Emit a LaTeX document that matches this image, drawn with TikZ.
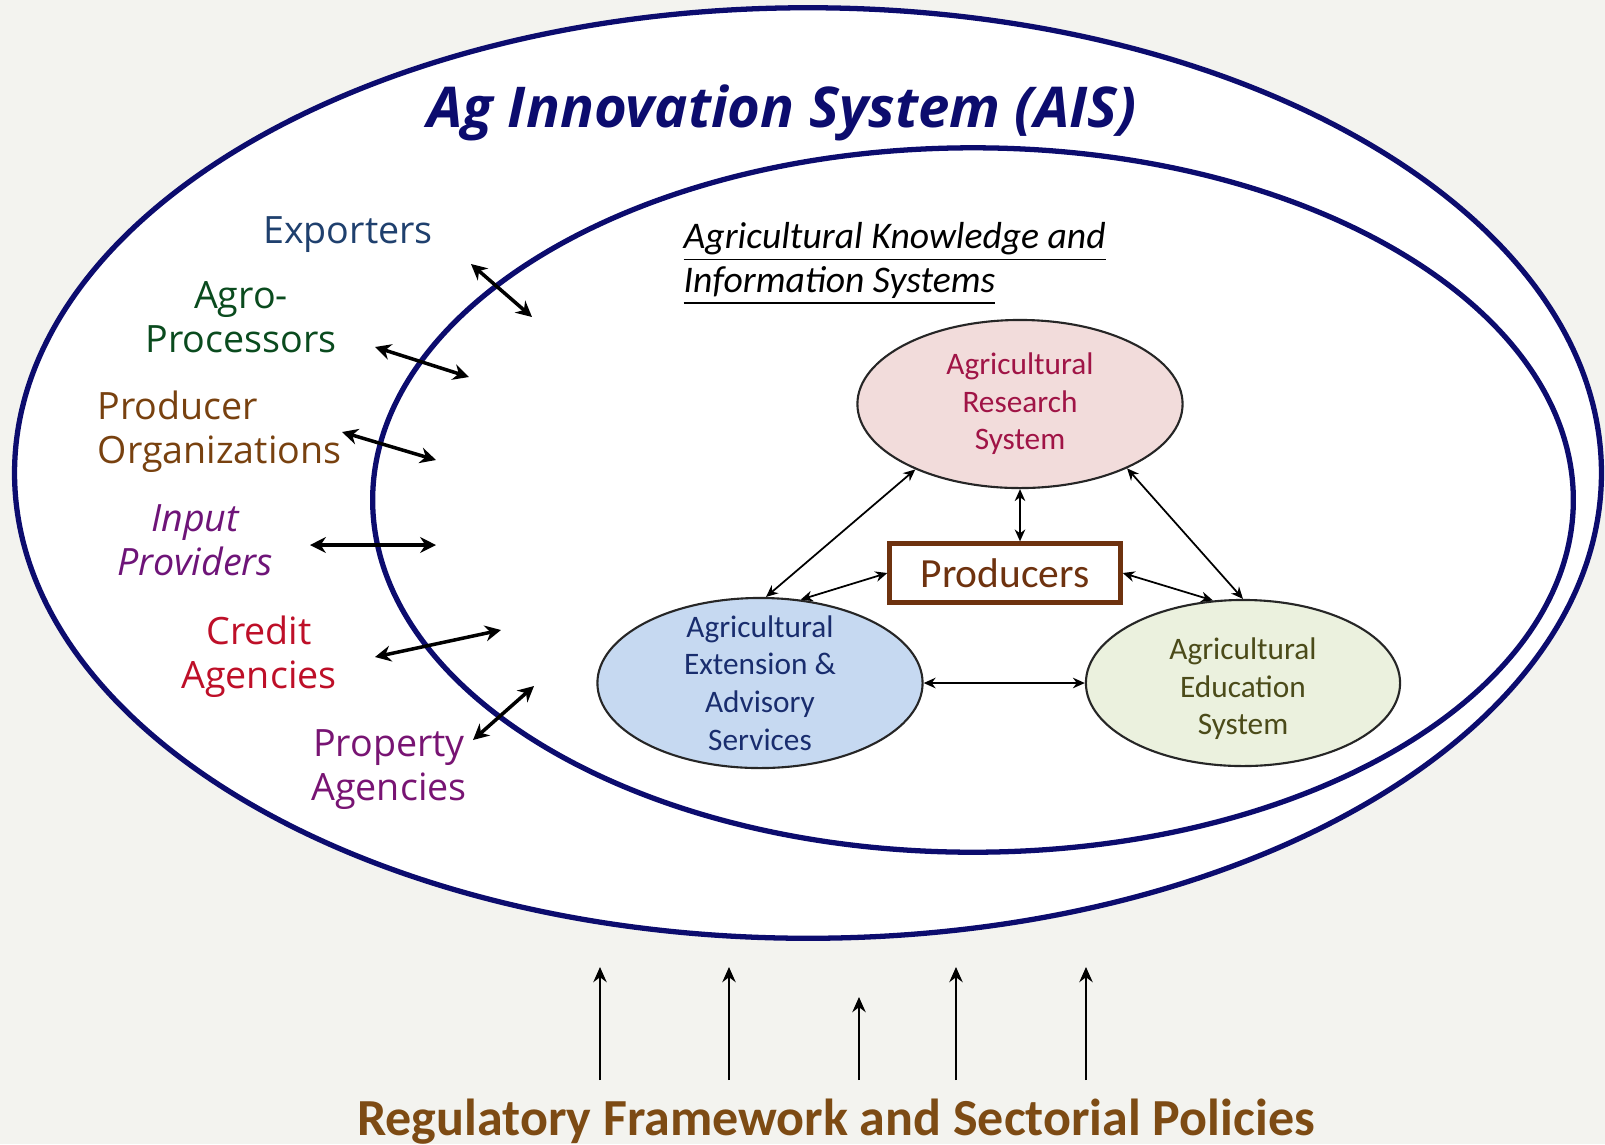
\documentclass[tikz,border=0pt]{standalone}
\usepackage{fontspec}
\setmainfont{Carlito}
\newfontfamily\comicfont{Open Sans}
\usetikzlibrary{arrows.meta, shapes.geometric}

\definecolor{ringblue}{RGB}{12,12,110}
\definecolor{bgfill}{RGB}{243,243,239}
\definecolor{exptxt}{RGB}{31,64,110}
\definecolor{agrotxt}{RGB}{10,75,30}
\definecolor{orgtxt}{RGB}{120,65,15}
\definecolor{inputtxt}{RGB}{110,20,120}
\definecolor{credtxt}{RGB}{190,15,40}
\definecolor{proptxt}{RGB}{120,20,115}
\definecolor{restxt}{RGB}{160,20,70}
\definecolor{resfill}{RGB}{242,220,219}
\definecolor{exttxt}{RGB}{25,45,110}
\definecolor{extfill}{RGB}{198,217,241}
\definecolor{edutxt}{RGB}{75,75,25}
\definecolor{edufill}{RGB}{235,241,222}
\definecolor{prodbrown}{RGB}{110,50,15}
\definecolor{policytxt}{RGB}{125,75,20}

\begin{document}
\begin{tikzpicture}[
  x=0.01cm, y=-0.01cm,
  ring/.style={draw=ringblue, line width=1.5pt, ellipse, inner sep=0pt},
  actor/.style={font=\comicfont\fontsize{10.7}{12.5}\selectfont, align=center,
                anchor=base, inner sep=0pt},
  sys/.style={draw=black!85, ellipse, line width=0.6pt, inner sep=0pt,
              minimum width=3.25cm, minimum height=1.68cm},
  systxt/.style={font=\fontsize{8.9}{10.7}\selectfont, align=center},
  big/.style={<->, >={Stealth[length=4.5pt, width=4.5pt]}, line width=1pt},
  link/.style={<->, >={Stealth[length=3.4pt, width=3pt]}, line width=0.5pt},
  policyarr/.style={-{Stealth[length=4.3pt, width=3.8pt]}, line width=0.55pt}
]
  \fill[bgfill] (0,0) rectangle (1605,1144);
  \useasboundingbox (0,0) rectangle (1605,1144);

  % the two systems
  \node[ring, fill=white, minimum width=15.86cm, minimum height=9.3cm] (ais) at (808,473) {};
  \node[ring, minimum width=12cm, minimum height=7.04cm] (akis) at (973,500) {};

  \node[font=\comicfont\bfseries\itshape\fontsize{16}{18}\selectfont, text=ringblue,
        anchor=base, inner sep=0pt] (aistitle) at (782,127) {Ag Innovation System (AIS)};
  \node[font=\itshape\fontsize{10.7}{12.5}\selectfont, align=left, anchor=base west,
        inner sep=0pt] (akistitle) at (683,292)
        {\underline{Agricultural Knowledge and}\\\underline{Information Systems}};

  % actors outside AKIS (base = last line)
  \node[actor, text=exptxt] (exp) at (348,243) {Exporters};
  \node[actor, text=agrotxt] (agro) at (241,352) {Agro-\\Processors};
  \node[actor, text=orgtxt, align=left, anchor=base west] (org) at (97,463) {Producer\\Organizations};
  \node[actor, text=inputtxt, font=\comicfont\itshape\fontsize{10.7}{12.5}\selectfont] (input) at (195,575) {Input\\Providers};
  \node[actor, text=credtxt] (cred) at (259,688) {Credit\\Agencies};
  \node[actor, text=proptxt] (prop) at (389,800) {Property\\Agencies};

  \foreach \n/\a/\b in {exp/{471,264}/{532,317}, agro/{375,347}/{469,377},
                        org/{342,432}/{436,460}, input/{310,545}/{436,545},
                        cred/{375,657}/{501,630}, prop/{473,740}/{534,686}} {
    \coordinate (\n-l) at (\a);
    \coordinate (\n-r) at (\b);
    \draw[big] (\n-l) -- (\n-r);
  }

  % AKIS core
  \node[sys, fill=resfill, label={[systxt, text=restxt]center:Agricultural\\Research\\System}]
        (res) at (1020,404) {};
  \node[sys, fill=extfill, minimum height=1.7cm,
        label={[systxt, text=exttxt]center:Agricultural\\Extension \&\\Advisory\\Services}]
        (ext) at (760,683) {};
  \node[sys, fill=edufill, minimum width=3.14cm, minimum height=1.66cm,
        label={[systxt, text=edutxt, yshift=-0.06cm]center:Agricultural\\Education\\System}]
        (edu) at (1243,683) {};
  \node[draw=prodbrown, line width=1.2pt, text=prodbrown, font=\fontsize{11.8}{14}\selectfont,
        minimum width=2.31cm, minimum height=0.59cm, inner sep=0pt] (prod) at (1005,573) {Producers};

  \draw[link] (res.212) -- (ext.86);
  \draw[link] (res.south) -- (res.south |- prod.north);
  \draw[link] (res.329) -- (edu.north);
  \draw[link] (ext.64) -- (prod.west);
  \draw[link] (prod.east) -- (edu.110);
  \draw[link] (ext.east) -- (edu.west);

  % policies from below
  \node[font=\bfseries\fontsize{14.8}{17}\selectfont, text=policytxt, anchor=base,
        inner sep=0pt] (policy) at (836,1135) {Regulatory Framework and Sectorial Policies};
  \foreach \x/\t in {600/967, 729/967, 859/997, 956/967, 1086/967} {
    \coordinate (tail-\x) at (\x,1080);
    \coordinate (tip-\x) at (\x,\t);
    \draw[policyarr] (tail-\x) -- (tip-\x);
  }
\end{tikzpicture}
\end{document}
